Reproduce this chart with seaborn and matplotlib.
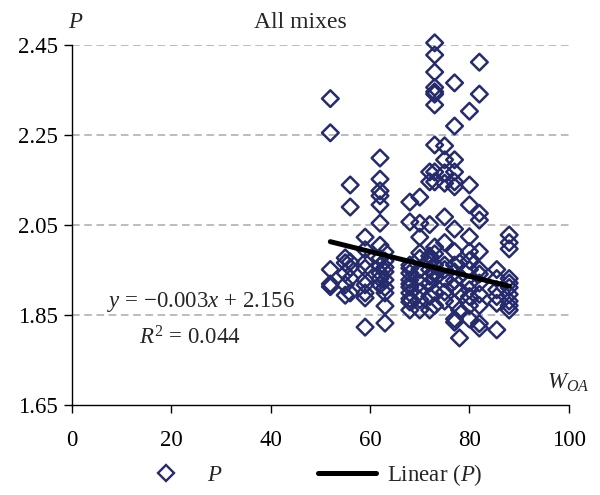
import matplotlib
matplotlib.use("Agg")
import matplotlib.pyplot as plt
import seaborn as sns
import pandas as pd
from matplotlib.lines import Line2D

# ---- data ----
w_oa = (
    [52] * 5 + [55] * 5 + [56] * 6 + [59] * 9 + [62] * 12 + [63] * 9 +
    [68] * 12 + [70] * 10 + [72] * 10 + [73] * 17 + [75] * 11 + [77] * 15 +
    [78] * 5 + [80] * 12 + [82] * 12 + [85.5] * 6 + [88] * 10
)
p_values = (
    [2.330, 2.254, 1.950, 1.918, 1.912] +
    [1.976, 1.942, 1.916, 1.893, 1.965] +
    [2.138, 2.089, 1.954, 1.898, 1.967, 1.930] +
    [2.022, 1.994, 1.953, 1.927, 1.916, 1.898, 1.887, 1.822, 1.966] +
    [2.198, 2.151, 2.125, 2.114, 2.094, 2.053, 2.004, 1.975, 1.942, 1.916, 1.958, 1.930] +
    [1.989, 1.969, 1.927, 1.898, 1.869, 1.831, 1.945, 1.910, 1.955] +
    [2.100, 2.056, 1.960, 1.953, 1.942, 1.927, 1.911, 1.898, 1.878, 1.860, 1.918, 1.885] +
    [2.111, 2.053, 2.022, 1.987, 1.975, 1.920, 1.883, 1.860, 1.950, 1.900] +
    [2.167, 2.145, 2.050, 1.980, 1.950, 1.920, 1.890, 1.860, 1.935, 1.968] +
    [2.454, 2.427, 2.389, 2.355, 2.345, 2.340, 2.316, 2.227, 2.167, 2.145, 1.960, 1.930, 1.900, 1.870, 1.940, 1.985, 2.000] +
    [2.225, 2.194, 2.165, 2.142, 2.067, 2.010, 1.960, 1.930, 1.900, 1.880, 1.950] +
    [2.365, 2.269, 2.194, 2.167, 2.145, 2.134, 2.040, 1.990, 1.945, 1.910, 1.875, 1.833, 1.840, 1.960, 1.925] +
    [1.798, 1.860, 1.900, 1.935, 1.965] +
    [2.302, 2.138, 2.094, 2.023, 1.990, 1.950, 1.920, 1.890, 1.870, 1.840, 1.970, 1.905] +
    [2.411, 2.340, 2.075, 2.060, 1.990, 1.950, 1.920, 1.895, 1.820, 1.830, 1.940, 1.870] +
    [1.950, 1.905, 1.875, 1.816, 1.930, 1.890] +
    [2.027, 2.010, 1.996, 1.930, 1.910, 1.895, 1.870, 1.860, 1.880, 1.920]
)
trend_x = [52, 88]
trend_y = [2.012, 1.913]
x_ticks = [0, 20, 40, 60, 80, 100]
y_ticks = [1.65, 1.85, 2.05, 2.25, 2.45]

navy = "#262b6d"
FS = 16.5

sns.set_theme(style="white")
plt.rcParams["font.family"] = ["Liberation Serif", "DejaVu Serif"]
plt.rcParams["mathtext.fontset"] = "custom"
plt.rcParams["mathtext.rm"] = "Liberation Serif"
plt.rcParams["mathtext.it"] = "Liberation Serif:italic"

fig = plt.figure(figsize=(6.0, 4.95), dpi=100)
ax = fig.add_axes([0.12, 0.1828, 0.828, 0.727])

df = pd.DataFrame({"W": w_oa, "P": p_values})
sns.scatterplot(data=df, x="W", y="P", ax=ax, marker="D", s=72,
                facecolor="none", edgecolor=navy, linewidth=1.8,
                clip_on=False, zorder=3, legend=False)
sns.lineplot(x=trend_x, y=trend_y, ax=ax, color="black", lw=3.6,
             zorder=4, legend=False)

ax.set_xlim(0, 100)
ax.set_ylim(1.65, 2.45)
ax.set_xticks(x_ticks)
ax.set_yticks(y_ticks)
ax.set_xticklabels([str(t) for t in x_ticks], fontsize=FS)
ax.set_yticklabels([f"{t:.2f}" for t in y_ticks], fontsize=FS)
ax.set_xlabel("")
ax.set_ylabel("")
for yv in y_ticks[1:]:
    ax.axhline(yv, color="#aaaaaa", lw=1.1, ls=(0, (5, 3)), zorder=1)

for s in ["top", "right"]:
    ax.spines[s].set_visible(False)
for s in ["left", "bottom"]:
    ax.spines[s].set_color("black")
    ax.spines[s].set_linewidth(1.0)
ax.tick_params(axis="both", direction="out", length=6, width=1.0,
               colors="black", left=True, bottom=True)
ax.tick_params(axis="y", pad=4)
ax.tick_params(axis="x", pad=12)

fig.text(0.5, 0.955, "All mixes", ha="center", va="center", fontsize=17)
fig.text(0.127, 0.955, "$P$", ha="center", va="center", fontsize=FS)
fig.text(0.982, 0.226, "$W_{OA}$", ha="right", va="center", fontsize=FS)

ax.text(26.0, 1.878, "$y$ = −0.003$x$ + 2.156", ha="center", va="center", fontsize=FS)
ax.text(23.8, 1.798, "$R^2$ = 0.044", ha="center", va="center", fontsize=FS)

handles = [
    Line2D([], [], marker="D", ls="none", mfc="none", mec=navy, mew=1.7, ms=8),
    Line2D([], [], color="black", lw=3.6),
]
fig.legend(handles, ["$P$", "Linear ($P$)"], loc="center", ncol=2,
           bbox_to_anchor=(0.517, 0.04), frameon=False, fontsize=FS,
           handlelength=2.5, columnspacing=4.2, handletextpad=0.5)

fig.savefig("out.png", dpi=100)
